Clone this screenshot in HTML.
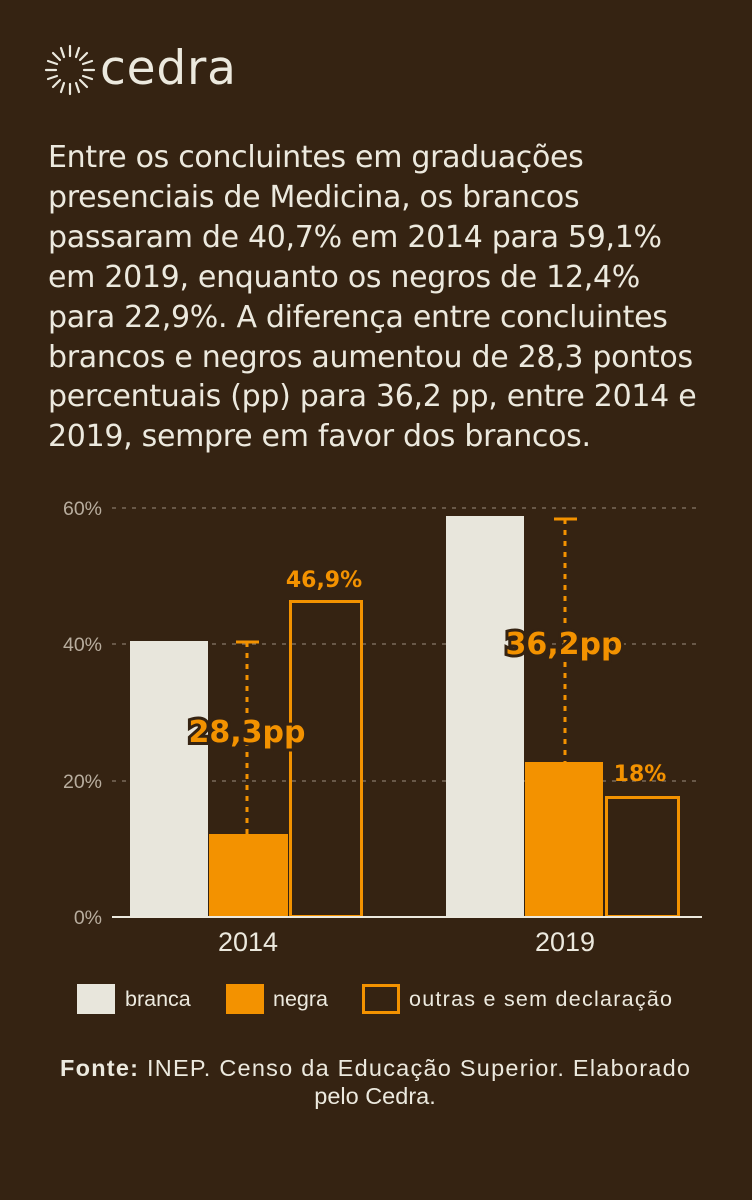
<!DOCTYPE html>
<html><head><meta charset="utf-8"><style>
body{margin:0;width:752px;height:1200px;background:#352312;overflow:hidden;font-family:"Liberation Sans","DejaVu Sans",sans-serif;color:#ece9de}
.p{position:absolute;left:48px;top:138px;width:700px;font-family:"DejaVu Sans",sans-serif;font-size:30px;line-height:39.9px;color:#ece9de;letter-spacing:-0.3px;white-space:nowrap}
</style></head><body>
<svg width="752" height="1200" style="position:absolute;left:0;top:0">
<g stroke="#ece9de" stroke-width="2.2" stroke-linecap="round">
<line x1="70" y1="46" x2="70" y2="56"/><line x1="70" y1="84" x2="70" y2="94"/>
<line x1="46" y1="70" x2="56" y2="70"/><line x1="84" y1="70" x2="94" y2="70"/>
<line x1="53" y1="53" x2="60" y2="60"/><line x1="80" y1="80" x2="87" y2="87"/>
<line x1="87" y1="53" x2="80" y2="60"/><line x1="60" y1="80" x2="53" y2="87"/>
<line x1="61" y1="48" x2="64" y2="57"/><line x1="76" y1="83" x2="79" y2="92"/>
<line x1="79" y1="48" x2="76" y2="57"/><line x1="64" y1="83" x2="61" y2="92"/>
<line x1="48" y1="61" x2="57" y2="64"/><line x1="83" y1="76" x2="92" y2="79"/>
<line x1="92" y1="61" x2="83" y2="64"/><line x1="57" y1="76" x2="48" y2="79"/>
</g>
<text x="100" y="84" font-family="DejaVu Sans" font-size="47" fill="#ece9de" letter-spacing="0.8">cedra</text>
<g stroke="#7a6a5a" stroke-width="1.5" stroke-dasharray="4,6">
<line x1="112" y1="508" x2="702" y2="508"/><line x1="112" y1="644" x2="702" y2="644"/><line x1="112" y1="781" x2="702" y2="781"/>
</g>
<g font-size="19.5" fill="#b8ad9e" text-anchor="end"><text x="102" y="515">60%</text><text x="102" y="651">40%</text><text x="102" y="788">20%</text><text x="102" y="924">0%</text></g>
<rect x="130" y="641" width="78" height="276" fill="#e8e6dc"/>
<rect x="209" y="834" width="79" height="83" fill="#f39200"/>
<rect x="290.5" y="601.5" width="71" height="315" fill="none" stroke="#f39200" stroke-width="3"/>
<rect x="446" y="516" width="78" height="401" fill="#e8e6dc"/>
<rect x="525" y="762" width="78" height="155" fill="#f39200"/>
<rect x="606.5" y="797.5" width="72" height="119" fill="none" stroke="#f39200" stroke-width="3"/>
<g stroke="#f39200" stroke-width="3">
<line x1="236" y1="642" x2="259" y2="642"/><line x1="247" y1="642" x2="247" y2="834" stroke-dasharray="5,6"/>
<line x1="554" y1="519" x2="577" y2="519"/><line x1="565" y1="519" x2="565" y2="762" stroke-dasharray="5,6"/>
</g>
<line x1="112" y1="917" x2="702" y2="917" stroke="#ece9de" stroke-width="2"/>
<g font-weight="bold" fill="#f39200" font-family="DejaVu Sans">
<text x="324" y="587" font-size="22" text-anchor="middle">46,9%</text>
<text x="640" y="781" font-size="22" text-anchor="middle">18%</text>
<text x="247" y="742" font-size="30" text-anchor="middle" stroke="#352312" stroke-width="6" paint-order="stroke">28,3pp</text>
<text x="564" y="654" font-size="30" text-anchor="middle" stroke="#352312" stroke-width="6" paint-order="stroke">36,2pp</text>
</g>
<g font-size="27" fill="#ece9de" text-anchor="middle"><text x="248" y="951">2014</text><text x="565" y="951">2019</text></g>
<rect x="77" y="984" width="38" height="30" fill="#e8e6dc"/>
<rect x="226" y="984" width="38" height="30" fill="#f39200"/>
<rect x="363.5" y="985.5" width="35" height="27" fill="none" stroke="#f39200" stroke-width="3"/>
<g font-size="21.5" fill="#ece9de"><text x="125" y="1006">branca</text><text x="273" y="1006">negra</text><text x="409" y="1006" textLength="263">outras e sem declaração</text></g>
<g font-size="23.5" fill="#ece9de" text-anchor="middle"><text x="375" y="1076" textLength="630"><tspan font-weight="bold">Fonte:</tspan> INEP. Censo da Educação Superior. Elaborado</text><text x="375" y="1104">pelo Cedra.</text></g>
</svg>
<div class="p">Entre os concluintes em graduações<br>presenciais de Medicina, os brancos<br>passaram de 40,7% em 2014 para 59,1%<br>em 2019, enquanto os negros de 12,4%<br>para 22,9%. A diferença entre concluintes<br>brancos e negros aumentou de 28,3 pontos<br>percentuais (pp) para 36,2 pp, entre 2014 e<br>2019, sempre em favor dos brancos.</div>
</body></html>
